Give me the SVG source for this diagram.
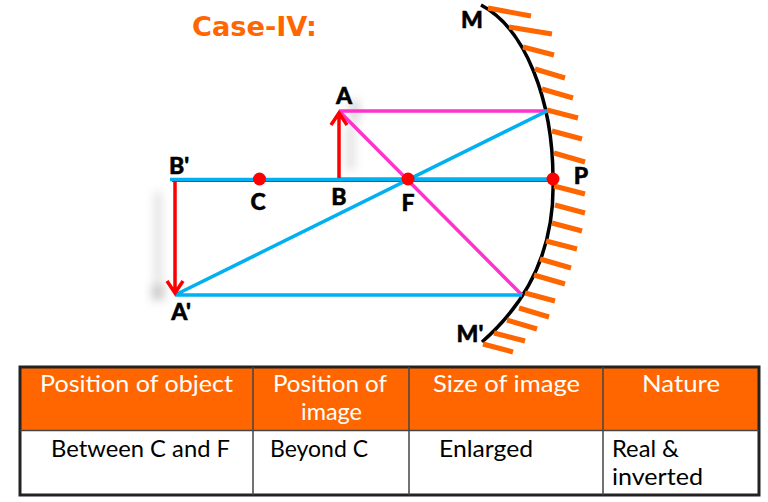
<svg xmlns="http://www.w3.org/2000/svg" width="768" height="502" viewBox="0 0 768 502">
<style>
text{font-family:"Lato","Noto Sans",sans-serif}
.lb{font-size:23px;font-weight:900;fill:#000;stroke:#000;stroke-width:.5;text-anchor:middle}
.th{font-size:23px;fill:#fff}
.td{font-size:23px;fill:#000}
.pk{stroke:#ff33cc;stroke-width:3.500;fill:none}
.bl{stroke:#00b0f0;stroke-width:3.500;fill:none}
.rd{stroke:#f00;stroke-width:3.500;fill:none}
.ha{stroke:#ff6600;stroke-width:5;fill:none}
.ln{stroke:#444;stroke-width:1.500;fill:none}
</style>
<defs>
<filter id="blur" x="-300%" y="-50%" width="700%" height="200%"><feGaussianBlur stdDeviation="5"/></filter>
</defs>
<rect width="768" height="502" fill="#fff"/>
<g id="shadows" filter="url(#blur)">
<rect x="350" y="100" width="9" height="22" fill="#d4d4d4"/>
<rect x="346" y="125" width="9" height="45" fill="#e2e2e2"/>
<rect x="154" y="192" width="8" height="90" fill="#e2e2e2"/>
<rect x="152" y="284" width="12" height="16" fill="#c8c8c8"/>
</g>
<text x="192" y="36" font-size="27" font-weight="900" fill="#ff6600" style="font-family:'DejaVu Sans',sans-serif" textLength="125" lengthAdjust="spacingAndGlyphs">Case-IV:</text>
<g id="mirror">
<path d="M481 5C525 28 553 100 553 179C555 245 530 300 482 342" stroke="#000" stroke-width="3.500" fill="none"/>
<path class="ha" d="M488 8L531 16M509 27L552 34M523 47L554 55M535 69L565 78M542 89L573 98M547 110L578 118M552 131L582 139M554 153L585 162M554 186L585 194M555 205L585 213M552 223L582 231M546 241L577 249M540 259L571 268M534 275L565 284M525 293L555 301M519 308L549 317M507 320L537 329M494 333L525 341M483 344L513 352"/>
</g>
<g id="connectors">
<path d="M339 178H553" stroke="#d58be0" stroke-width="2" fill="none"/>
<path d="M172 181H553" stroke="#000" stroke-width="1.500" fill="none"/>
<path class="bl" d="M170 179.500H553"/>
<path class="pk" d="M339 111H547M339 111L522 295"/>
<path class="bl" d="M175 295L547 111M175 295H522"/>
<path class="rd" d="M339 178V113M331 125L339 113L347 125"/>
<path class="rd" d="M175 181V293M167 281L175 293L183 281"/>
</g>
<g id="point-C"><circle cx="259.500" cy="179" r="6.500" fill="#f00"/></g>
<g id="point-F"><circle cx="408" cy="179" r="6.500" fill="#f00"/></g>
<g id="point-P"><circle cx="553" cy="179" r="6.500" fill="#f00"/></g>
<g id="labels">
<text class="lb" x="344" y="104">A</text>
<text class="lb" x="339" y="205">B</text>
<text class="lb" x="179" y="174">B'</text>
<text class="lb" x="181" y="320">A'</text>
<text class="lb" x="258" y="210">C</text>
<text class="lb" x="408" y="211">F</text>
<text class="lb" x="581" y="184">P</text>
<text class="lb" x="472" y="28">M</text>
<text class="lb" x="470" y="342">M'</text>
</g>
<g id="table">
<rect x="20" y="367" width="739" height="63" fill="#ff6600"/>
<rect x="20" y="367" width="739" height="128" fill="none" stroke="#222" stroke-width="3"/>
<path class="ln" d="M20 430.500H759M253 367V495M409 367V495M603 367V495"/>
<text class="th" x="40" y="392" textLength="193" lengthAdjust="spacingAndGlyphs">Position of object</text>
<text class="th" x="273" y="392" textLength="114" lengthAdjust="spacingAndGlyphs">Position of</text>
<text class="th" x="301" y="420" textLength="61" lengthAdjust="spacingAndGlyphs">image</text>
<text class="th" x="433" y="392" textLength="147" lengthAdjust="spacingAndGlyphs">Size of image</text>
<text class="th" x="642" y="392" textLength="78" lengthAdjust="spacingAndGlyphs">Nature</text>
<text class="td" x="51" y="457" textLength="179" lengthAdjust="spacingAndGlyphs">Between C and F</text>
<text class="td" x="270" y="457" textLength="98" lengthAdjust="spacingAndGlyphs">Beyond C</text>
<text class="td" x="439" y="457" textLength="94" lengthAdjust="spacingAndGlyphs">Enlarged</text>
<text class="td" x="612" y="457" textLength="67" lengthAdjust="spacingAndGlyphs">Real &amp;</text>
<text class="td" x="612" y="485" textLength="91" lengthAdjust="spacingAndGlyphs">inverted</text>
</g>
</svg>
